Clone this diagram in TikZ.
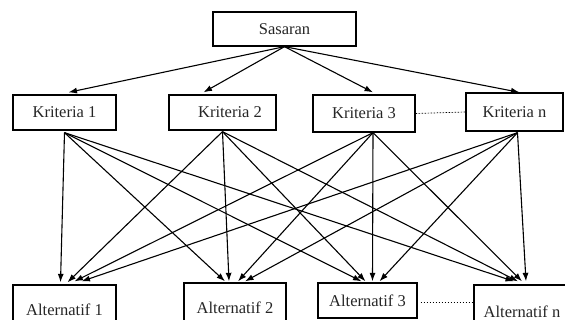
\documentclass[tikz,border=0pt]{standalone}
\usepackage{fontspec}
\setmainfont{Liberation Serif}
\usetikzlibrary{arrows.meta,positioning,calc}

\tikzset{
  box/.style={draw,line width=1.3pt,fill=white,inner sep=0pt,text=black!85,font=\fontsize{16.5}{18}\selectfont},
  link/.style={line width=1.1pt,-{Latex[length=8.5pt,width=6pt]}},
  gap/.style={line width=0.7pt,dash pattern=on 1.5pt off 1.5pt}
}

\begin{document}
\begin{tikzpicture}[x=1pt,y=1pt,yscale=-1]
\useasboundingbox (0,0) rectangle (565,320);

%Goal
\node[box,minimum width=143pt,minimum height=34pt] (s) at (284.5,29) {Sasaran};

%Criteria
\node[box,minimum width=103pt,minimum height=35pt] (k1) at (64.5,112.5) {Kriteria 1};
\node[box,minimum width=107pt,minimum height=35pt] (k2) at (222.5,112.5) {\hspace{15pt}Kriteria 2};
\node[box,minimum width=102pt,minimum height=37pt] (k3) at (364,113.5) {Kriteria 3};
\node[box,minimum width=97pt,minimum height=38pt] (kn) at (514.5,112) {Kriteria n};

%Alternatives (cut by the page edge)
\node[box,minimum width=103pt,minimum height=50pt] (a1) at (64.5,310) {Alternatif 1};
\node[box,minimum width=102pt,minimum height=50pt] (a2) at (235,308) {Alternatif 2};
\node[box,minimum width=99pt,minimum height=35pt] (a3) at (367.5,300.5) {Alternatif 3};
\node[box,minimum width=96pt,minimum height=54pt] (an) at (522,312) {Alternatif n};

%Dotted gaps
\draw[gap] (k3.east) -- (kn.west);
\draw[gap] ([xshift=3pt,yshift=1.5pt]a3.east) -- ([yshift=-10pt]an.west);

%Goal to criteria
\draw[link] (s.south) -- ([xshift=4pt,yshift=-2pt]k1.north);
\draw[link] (s.south) -- ([xshift=-19pt,yshift=-2pt]k2.north);
\draw[link] (s.south) -- ([xshift=9pt,yshift=-2pt]k3.north);
\draw[link] (s.south) -- ([xshift=5pt]kn.north);

%Criteria to alternatives
\coordinate (k1b) at ([yshift=2pt]k1.south);
\coordinate (k2b) at ([yshift=1pt]k2.south);
\coordinate (k3b) at ([xshift=9pt]k3.south);
\coordinate (knb) at ([xshift=3pt,yshift=1pt]kn.south);
\foreach \src/\dst/\dx/\dy in {
  k1b/a1/-4/-2, k2b/a1/3/-2, k3b/a1/10/-3, knb/a1/17/-3,
  k1b/a2/-10/-1, k2b/a2/-6/-1, k3b/a2/3/-1, knb/a2/10/-1,
  k1b/a3/-6/-1, k2b/a3/-2/-1, k3b/a3/5/-1, knb/a3/12/-1,
  k1b/an/-8/-3, k2b/an/-4/-3, k3b/an/0/-3, knb/an/4/-3}
  \draw[link] (\src) -- ([xshift=\dx pt,yshift=\dy pt]\dst.north);

\end{tikzpicture}
\end{document}
